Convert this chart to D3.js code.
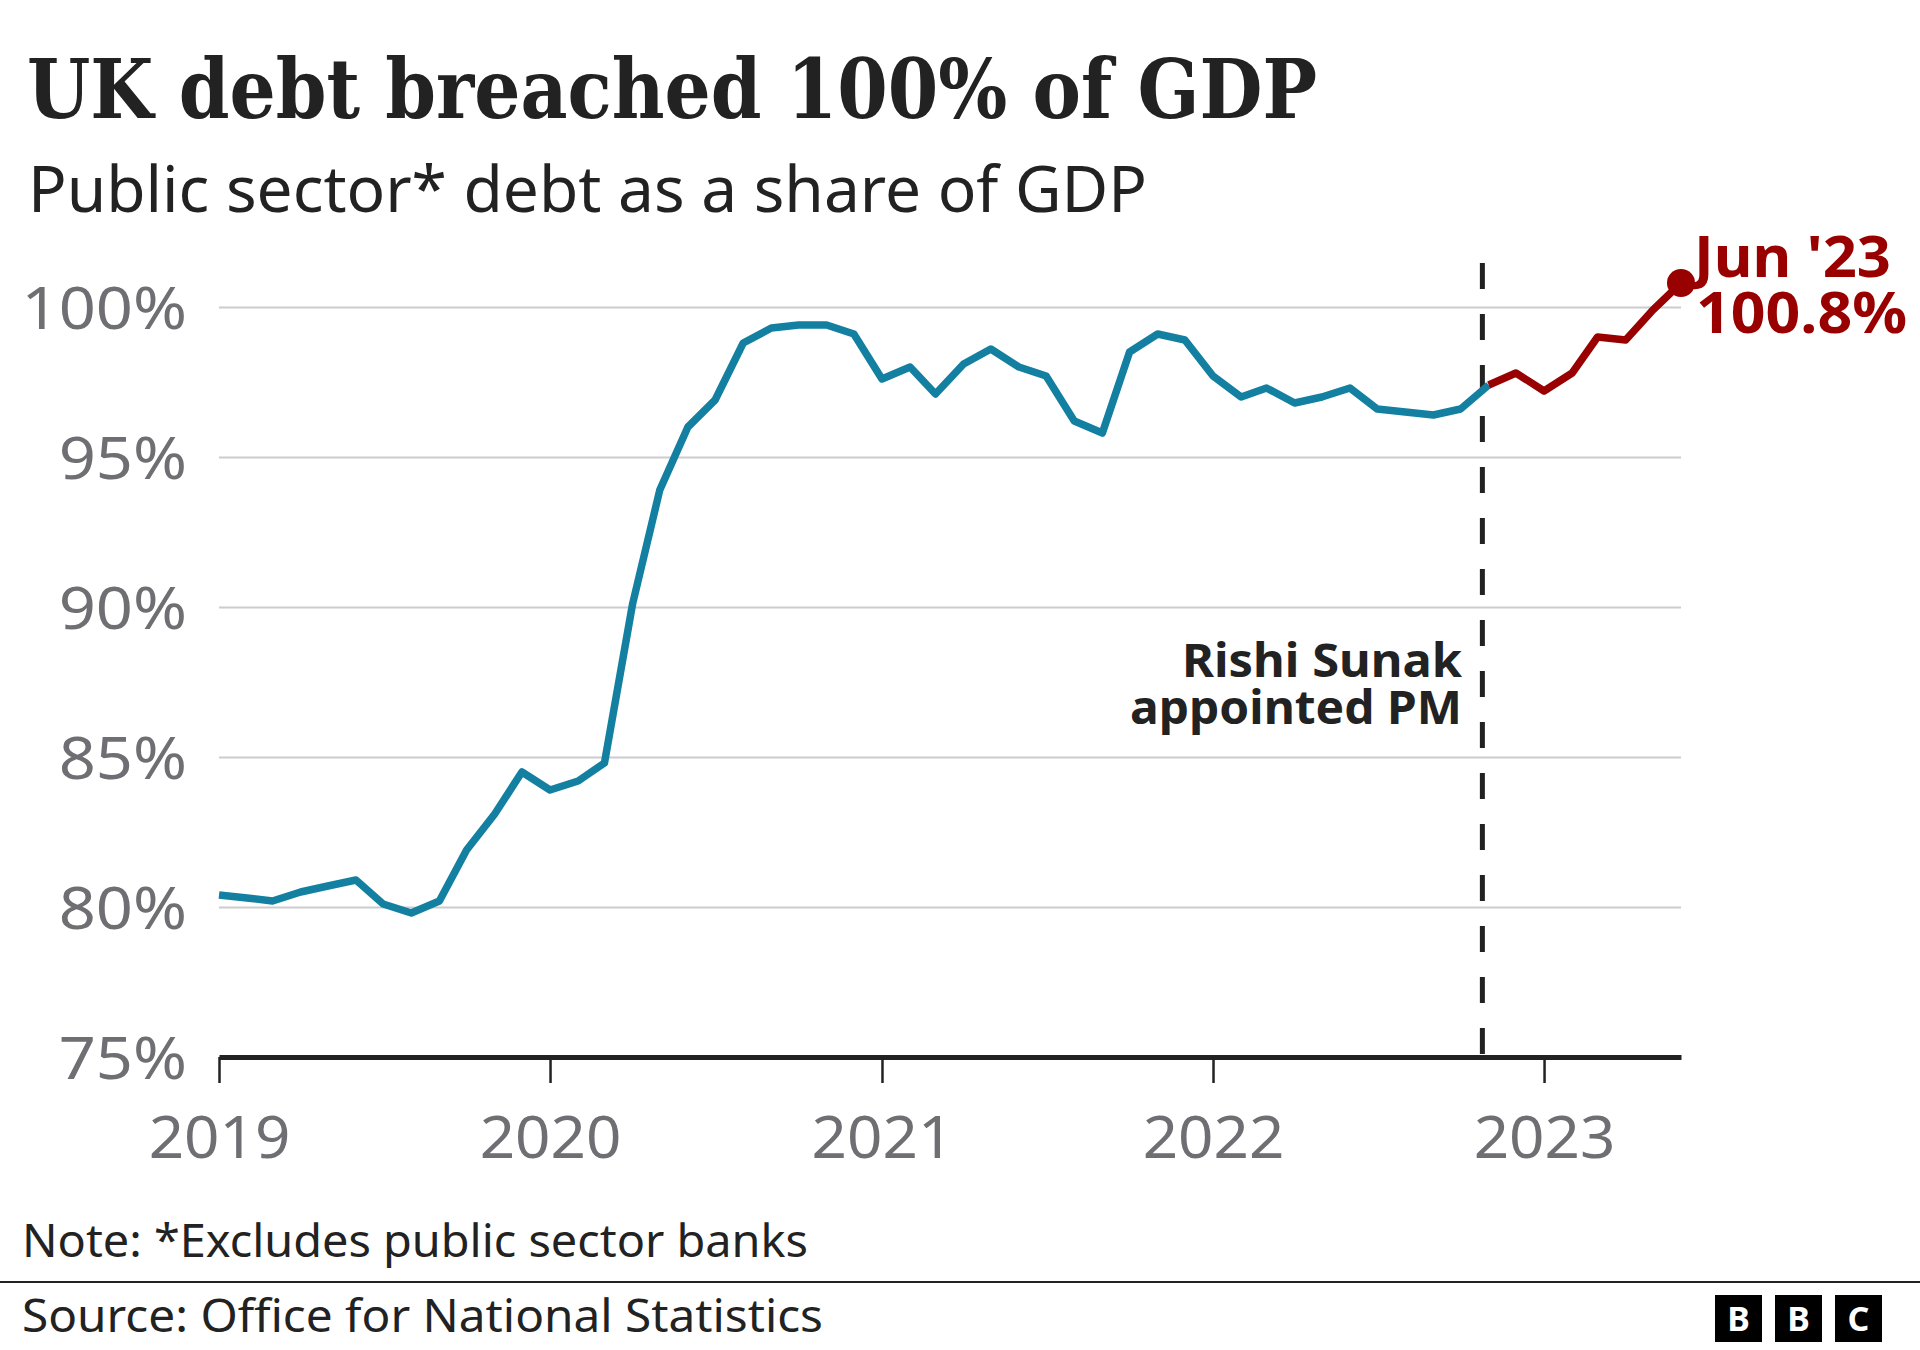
<!DOCTYPE html>
<html>
<head>
<meta charset="utf-8">
<script src="https://cdn.jsdelivr.net/npm/d3@7"></script>
<style>
  body { margin: 0; background: #fff; }
  svg { display: block; }
</style>
</head>
<body>
<div id="chart"></div>
<script>
const width = 1920
const height = 1350

// Monthly public sector debt (% of GDP), Jan 2019 - Jun 2023
const months = [
  "2019-01", "2019-02", "2019-03", "2019-04", "2019-05", "2019-06",
  "2019-07", "2019-08", "2019-09", "2019-10", "2019-11", "2019-12",
  "2020-01", "2020-02", "2020-03", "2020-04", "2020-05", "2020-06",
  "2020-07", "2020-08", "2020-09", "2020-10", "2020-11", "2020-12",
  "2021-01", "2021-02", "2021-03", "2021-04", "2021-05", "2021-06",
  "2021-07", "2021-08", "2021-09", "2021-10", "2021-11", "2021-12",
  "2022-01", "2022-02", "2022-03", "2022-04", "2022-05", "2022-06",
  "2022-07", "2022-08", "2022-09", "2022-10", "2022-11", "2022-12",
  "2023-01", "2023-02", "2023-03", "2023-04", "2023-05", "2023-06"
]
const debtShare = [
  80.4, 80.3, 80.2, 80.5, 80.7, 80.9, 80.1, 79.8, 80.2, 81.9, 83.1, 84.5,
  83.9, 84.2, 84.8, 90.1, 93.9, 96.0, 96.9, 98.8, 99.3, 99.4, 99.4, 99.1,
  97.6, 98.0, 97.1, 98.1, 98.6, 98.0, 97.7, 96.2, 95.8, 98.5, 99.1, 98.9,
  97.7, 97.0, 97.3, 96.8, 97.0, 97.3, 96.6, 96.5, 96.4, 96.6, 97.4, 97.8,
  97.2, 97.8, 99.0, 98.9, 99.9, 100.8
]
// index where the Sunak period (red) begins
const sunakStartIndex = 46
const sunakDate = "2022-10-25"

const yTicks = [75, 80, 85, 90, 95, 100]
const xTickYears = ["2019", "2020", "2021", "2022", "2023"]

const blue = "#1380A1"
const red = "#990000"
const ink = "#222222"
const grey = "#6e6e73"
const sans = "'Noto Sans', 'Open Sans', sans-serif"

var parseMonth = d3.timeParse("%Y-%m")
var parseDay = d3.timeParse("%Y-%m-%d")

var data = months.map(function(m, i) {
  return { date: parseMonth(m), value: debtShare[i] }
})

var plot = { left: 219, right: 1681, top: 307, bottom: 1057 }

var x = d3.scaleTime()
  .domain([data[0].date, data[data.length - 1].date])
  .range([plot.left, plot.right])

var y = d3.scaleLinear()
  .domain([75, 100])
  .range([plot.bottom, plot.top])

var svg = d3.select("#chart").append("svg")
  .attr("width", width)
  .attr("height", height)

// Stretch a label horizontally to mimic the wider BBC font.
function widen(selection, factor) {
  selection.each(function() {
    var w = this.getComputedTextLength()
    d3.select(this)
      .attr("textLength", w * factor)
      .attr("lengthAdjust", "spacingAndGlyphs")
  })
}

// Title and subtitle
svg.append("text")
  .attr("x", 27).attr("y", 118)
  .attr("font-family", "'DejaVu Serif', serif")
  .attr("font-weight", "bold")
  .attr("font-size", 82)
  .attr("fill", ink)
  .attr("textLength", 1290)
  .attr("lengthAdjust", "spacingAndGlyphs")
  .text("UK debt breached 100% of GDP")

svg.append("text")
  .attr("x", 28).attr("y", 212)
  .attr("font-family", sans)
  .attr("font-size", 64)
  .attr("fill", ink)
  .attr("textLength", 1119)
  .attr("lengthAdjust", "spacingAndGlyphs")
  .text("Public sector* debt as a share of GDP")

// Gridlines + y labels
var yAxis = svg.append("g")
  .attr("transform", "translate(" + plot.left + ",0)")
  .call(d3.axisLeft(y)
    .tickValues(yTicks)
    .tickSize(-(plot.right - plot.left))
    .tickPadding(32)
    .tickFormat(function(d) { return d + "%" }))

yAxis.select(".domain").remove()
yAxis.selectAll(".tick line")
  .attr("stroke", "#cccccc")
  .attr("stroke-width", 2)
yAxis.selectAll(".tick text")
  .attr("font-family", sans)
  .attr("font-size", 58)
  .attr("fill", grey)
  .attr("dy", null)
  .attr("y", 21)
  .call(widen, 1.12)

// Sunak annotation line
var xSunak = x(parseDay(sunakDate))
svg.append("line")
  .attr("x1", xSunak).attr("x2", xSunak)
  .attr("y1", 263).attr("y2", plot.bottom)
  .attr("stroke", ink)
  .attr("stroke-width", 5)
  .attr("stroke-dasharray", "26,25")

svg.append("text")
  .attr("x", 1462).attr("y", 677)
  .attr("text-anchor", "end")
  .attr("font-family", sans)
  .attr("font-weight", "bold")
  .attr("font-size", 46)
  .attr("fill", ink)
  .attr("textLength", 280)
  .attr("lengthAdjust", "spacingAndGlyphs")
  .text("Rishi Sunak")

svg.append("text")
  .attr("x", 1462).attr("y", 724)
  .attr("text-anchor", "end")
  .attr("font-family", sans)
  .attr("font-weight", "bold")
  .attr("font-size", 46)
  .attr("fill", ink)
  .attr("textLength", 332)
  .attr("lengthAdjust", "spacingAndGlyphs")
  .text("appointed PM")

// x axis
var xAxis = svg.append("g")
  .attr("transform", "translate(0," + plot.bottom + ")")
  .call(d3.axisBottom(x)
    .tickValues(xTickYears.map(function(yr) { return parseMonth(yr + "-01") }))
    .tickSize(26)
    .tickSizeOuter(0)
    .tickPadding(22)
    .tickFormat(d3.timeFormat("%Y")))

xAxis.select(".domain")
  .attr("stroke", ink)
  .attr("stroke-width", 5)
xAxis.selectAll(".tick line")
  .attr("stroke", ink)
  .attr("stroke-width", 2.5)
xAxis.selectAll(".tick text")
  .attr("font-family", sans)
  .attr("font-size", 59)
  .attr("fill", grey)
  .attr("dy", null)
  .attr("y", 101)
  .call(widen, 1.05)

// The lines
var line = d3.line()
  .x(function(d) { return x(d.date) })
  .y(function(d) { return y(d.value) })

svg.append("path")
  .datum(data.slice(0, sunakStartIndex + 1))
  .attr("fill", "none")
  .attr("stroke", blue)
  .attr("stroke-width", 7.5)
  .attr("stroke-linejoin", "round")
  .attr("d", line)

svg.append("path")
  .datum(data.slice(sunakStartIndex))
  .attr("fill", "none")
  .attr("stroke", red)
  .attr("stroke-width", 7.5)
  .attr("stroke-linejoin", "round")
  .attr("d", line)

var last = data[data.length - 1]
svg.append("circle")
  .attr("cx", x(last.date))
  .attr("cy", y(last.value))
  .attr("r", 14)
  .attr("fill", red)

svg.append("text")
  .attr("x", 1694).attr("y", 277)
  .attr("font-family", sans)
  .attr("font-weight", "bold")
  .attr("font-size", 57)
  .attr("fill", red)
  .attr("textLength", 197)
  .attr("lengthAdjust", "spacingAndGlyphs")
  .text("Jun '23")

svg.append("text")
  .attr("x", 1696).attr("y", 333)
  .attr("font-family", sans)
  .attr("font-weight", "bold")
  .attr("font-size", 57)
  .attr("fill", red)
  .attr("textLength", 211)
  .attr("lengthAdjust", "spacingAndGlyphs")
  .text(last.value.toFixed(1) + "%")

// Footer
svg.append("text")
  .attr("x", 22).attr("y", 1257)
  .attr("font-family", sans)
  .attr("font-size", 46)
  .attr("fill", ink)
  .attr("textLength", 786)
  .attr("lengthAdjust", "spacingAndGlyphs")
  .text("Note: *Excludes public sector banks")

svg.append("line")
  .attr("x1", 0).attr("x2", width)
  .attr("y1", 1282).attr("y2", 1282)
  .attr("stroke", ink)
  .attr("stroke-width", 2)

svg.append("text")
  .attr("x", 22).attr("y", 1332)
  .attr("font-family", sans)
  .attr("font-size", 46)
  .attr("fill", ink)
  .attr("textLength", 801)
  .attr("lengthAdjust", "spacingAndGlyphs")
  .text("Source: Office for National Statistics")

var logo = svg.append("g").attr("transform", "translate(1715,1295)")
;["B", "B", "C"].forEach(function(letter, i) {
  logo.append("rect")
    .attr("x", i * 60).attr("y", 0)
    .attr("width", 47).attr("height", 47)
    .attr("fill", "#000")
  logo.append("text")
    .attr("x", i * 60 + 23.5).attr("y", 36)
    .attr("text-anchor", "middle")
    .attr("font-family", sans)
    .attr("font-weight", "bold")
    .attr("font-size", 34)
    .attr("fill", "#fff")
    .text(letter)
})
</script>
</body>
</html>
